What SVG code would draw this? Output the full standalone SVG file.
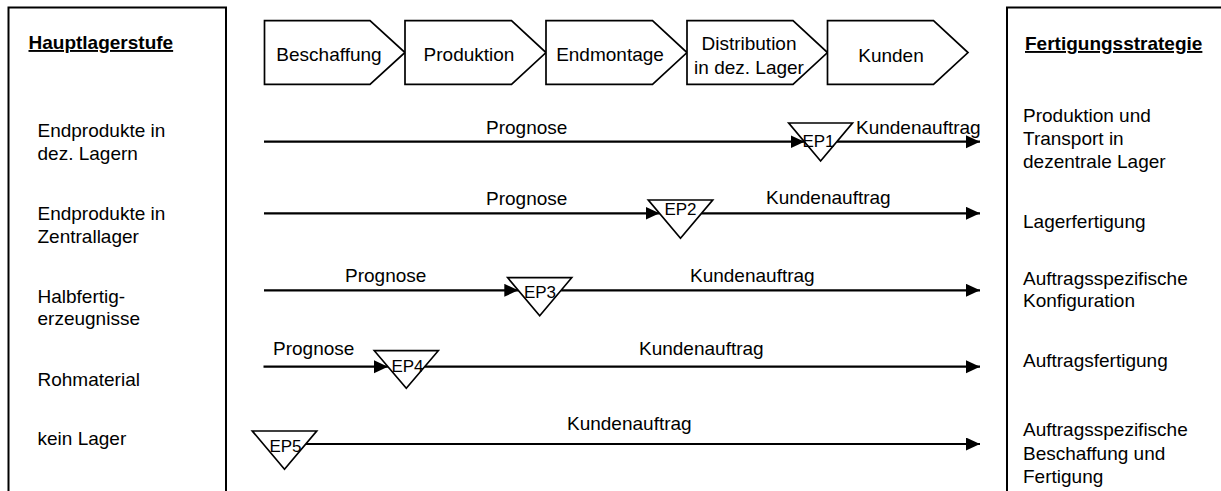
<svg xmlns="http://www.w3.org/2000/svg" width="1221" height="491" viewBox="0 0 1221 491">
  <style>
    text { font-family: "Liberation Sans", Arial, sans-serif; font-size: 19px; fill: #000; }
    .head { font-weight: bold; text-decoration: underline; }
    .ep { font-size: 17px; text-anchor: middle; }
    .mid { text-anchor: middle; }
    .frame { fill: none; stroke: #000; stroke-width: 2; }
    .stage { fill: #fff; stroke: #000; stroke-width: 1.7; stroke-linejoin: miter; }
    .tri { fill: #fff; stroke: #000; stroke-width: 1.7; }
    .flow { fill: none; stroke: #000; stroke-width: 2.2; marker-end: url(#arrow); }
  </style>
  <defs>
    <marker id="arrow" markerUnits="userSpaceOnUse" markerWidth="15" markerHeight="14" refX="14" refY="6.5" orient="auto">
      <path d="M0,0 L14,6.5 L0,13 z" fill="#000"/>
    </marker>
  </defs>

  <!-- left column: main storage level -->
  <g id="hauptlagerstufe">
    <path class="frame" d="M8.5,495 V7.5 H226 V495"/>
    <text class="head" x="28.5" y="49">Hauptlagerstufe</text>
    <text x="37.5" y="137">Endprodukte in</text>
    <text x="37.5" y="160">dez. Lagern</text>
    <text x="37.5" y="220">Endprodukte in</text>
    <text x="37.5" y="243">Zentrallager</text>
    <text x="37.5" y="303">Halbfertig-</text>
    <text x="37.5" y="325">erzeugnisse</text>
    <text x="37.5" y="386">Rohmaterial</text>
    <text x="37.5" y="445">kein Lager</text>
  </g>

  <!-- right column: production strategy -->
  <g id="fertigungsstrategie">
    <path class="frame" d="M1007,495 V7.5 H1225"/>
    <text class="head" x="1025" y="50">Fertigungsstrategie</text>
    <text x="1023" y="122">Produktion und</text>
    <text x="1023" y="145">Transport in</text>
    <text x="1023" y="168">dezentrale Lager</text>
    <text x="1023" y="228">Lagerfertigung</text>
    <text x="1023" y="285">Auftragsspezifische</text>
    <text x="1023" y="307">Konfiguration</text>
    <text x="1023" y="367">Auftragsfertigung</text>
    <text x="1023" y="436">Auftragsspezifische</text>
    <text x="1023" y="459.5">Beschaffung und</text>
    <text x="1023" y="483">Fertigung</text>
  </g>

  <!-- value chain stages -->
  <g id="beschaffung">
    <path class="stage" d="M264.5,20.7 H370 L405,52.5 L370,84.3 H264.5 Z"/>
    <text class="mid" x="329" y="61">Beschaffung</text>
  </g>
  <g id="produktion">
    <path class="stage" d="M405,20.7 H511.5 L546,52.5 L511.5,84.3 H405 Z"/>
    <text class="mid" x="469" y="61">Produktion</text>
  </g>
  <g id="endmontage">
    <path class="stage" d="M546,20.7 H652.5 L687,52.5 L652.5,84.3 H546 Z"/>
    <text class="mid" x="610" y="61">Endmontage</text>
  </g>
  <g id="distribution">
    <path class="stage" d="M687,20.7 H793 L827.5,52.5 L793,84.3 H687 Z"/>
    <text class="mid" x="749" y="50">Distribution</text>
    <text class="mid" x="749" y="74">in dez. Lager</text>
  </g>
  <g id="kunden">
    <path class="stage" d="M827.5,20.7 H933.5 L968,52.5 L933.5,84.3 H827.5 Z"/>
    <text class="mid" x="891" y="62">Kunden</text>
  </g>

  <!-- flows: forecast-driven up to the decoupling point, then order-driven -->
  <g id="connectors">
    <line class="flow" x1="264" y1="141.7" x2="804.5" y2="141.7"/>
    <line class="flow" x1="836.8" y1="141.7" x2="980" y2="141.7"/>
    <text x="486" y="134">Prognose</text>
    <text x="856" y="134">Kundenauftrag</text>

    <line class="flow" x1="264" y1="213.3" x2="659.5" y2="213.3"/>
    <line class="flow" x1="701.5" y1="213.3" x2="980" y2="213.3"/>
    <text x="486" y="204.5">Prognose</text>
    <text x="766" y="203.5">Kundenauftrag</text>

    <line class="flow" x1="264" y1="290.3" x2="518.3" y2="290.3"/>
    <line class="flow" x1="561.1" y1="290.3" x2="980" y2="290.3"/>
    <text x="345" y="282">Prognose</text>
    <text x="690" y="282">Kundenauftrag</text>

    <line class="flow" x1="263.5" y1="366.7" x2="387.9" y2="366.7"/>
    <line class="flow" x1="424.7" y1="366.7" x2="980" y2="366.7"/>
    <text x="273" y="355">Prognose</text>
    <text x="639" y="355">Kundenauftrag</text>

    <line class="flow" x1="305.8" y1="444" x2="980" y2="444"/>
    <text x="567" y="430">Kundenauftrag</text>
  </g>

  <!-- decoupling points -->
  <g id="ep1">
    <path class="tri" d="M788.7,123 H852.5 L820.6,161 Z"/>
    <text class="ep" x="818.5" y="147">EP1</text>
  </g>
  <g id="ep2">
    <path class="tri" d="M648.3,200 H712.7 L680.5,238.3 Z"/>
    <text class="ep" x="680.5" y="215">EP2</text>
  </g>
  <g id="ep3">
    <path class="tri" d="M507.7,277.7 H571.7 L539.7,315.7 Z"/>
    <text class="ep" x="540" y="298.3">EP3</text>
  </g>
  <g id="ep4">
    <path class="tri" d="M374.3,350.7 H438.3 L406.3,388.3 Z"/>
    <text class="ep" x="407.5" y="371.7">EP4</text>
  </g>
  <g id="ep5">
    <path class="tri" d="M252.3,431 H316.7 L284.5,469.3 Z"/>
    <text class="ep" x="285.5" y="451.7">EP5</text>
  </g>
</svg>
